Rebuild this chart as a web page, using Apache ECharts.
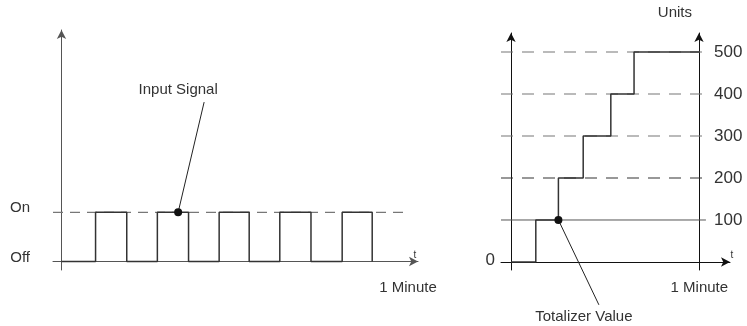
<!DOCTYPE html>
<html>
<head>
<meta charset="utf-8">
<script src="https://cdn.jsdelivr.net/npm/echarts@6/dist/echarts.min.js"></script>
<style>
  html, body { margin: 0; padding: 0; background: #fff; }
  #chart { width: 747px; height: 326px; }
</style>
</head>
<body>
<div id="chart"></div>
<script>
// input signal: seconds where the state flips, starting Off
var signalTimes = [0, 5.9, 11.3, 16.6, 22.0, 27.3, 32.5, 37.8, 43.2, 48.6, 53.8];
var signalStates = [0, 1, 0, 1, 0, 1, 0, 1, 0, 1, 0];
var stateLabels = ['Off', 'On'];

// totalizer: seconds where the count goes up by 100
var totalTimes = [0, 7.9, 15.1, 23.0, 31.8, 39.2, 60];
var totalValues = [0, 100, 200, 300, 400, 500, 500];
var unitTicks = [100, 200, 300, 400, 500];

var minuteMark = 60;
var signalDot = [20.2, 1];
var signalTextAt = [24.7, 3.24];
var totalDot = [15.1, 100];
var totalTextAt = [28, -102];

var font = 'Liberation Sans, Arial, sans-serif';

function zip(xs, ys) {
  return xs.map(function (x, i) { return [x, ys[i]] })
}

function arrowLine(color) {
  return {
    onZero: true,
    symbol: ['none', 'arrow'],
    symbolSize: [7, 9],
    lineStyle: { color: color, width: 1 }
  }
}

function callout(xi, yi, dot, textAt, text, labelPos, labelOffset) {
  return {
    type: 'line',
    xAxisIndex: xi,
    yAxisIndex: yi,
    silent: true,
    clip: false,
    symbol: 'circle',
    symbolSize: function (v, p) { return p.dataIndex === 0 ? 8 : 0 },
    itemStyle: { color: '#111' },
    lineStyle: { color: '#222', width: 1 },
    z: 5,
    data: [
      { value: dot },
      {
        value: textAt,
        label: {
          show: true, formatter: text, position: labelPos, offset: labelOffset,
          fontFamily: font, fontSize: 15, color: '#333'
        }
      }
    ]
  }
}

var chart = echarts.init(document.getElementById('chart'))

var series = [
  {
    type: 'line', xAxisIndex: 0, yAxisIndex: 0, silent: true, symbol: 'none',
    lineStyle: { color: '#777', width: 1.2, type: [10, 7] },
    data: [[-1.47, 1], [minuteMark, 1]]
  },
  {
    type: 'line', xAxisIndex: 0, yAxisIndex: 0, silent: true, symbol: 'none',
    step: 'end', z: 3,
    lineStyle: { color: '#333', width: 1.5 },
    data: zip(signalTimes, signalStates)
  },
  callout(0, 0, signalDot, signalTextAt, 'Input Signal', 'top', [-26, 0])
]

unitTicks.forEach(function (v) {
  series.push({
    type: 'line', xAxisIndex: 1, yAxisIndex: 1, silent: true, symbol: 'none',
    lineStyle: v === 100
      ? { color: '#555', width: 1, type: 'solid' }
      : { color: v === 200 ? '#333' : '#777', width: 1.2, type: [12, 9] },
    data: [[-3.19, v], [62.1, v]]
  })
})

series.push({
  type: 'line', xAxisIndex: 1, yAxisIndex: 1, silent: true, symbol: 'none',
  step: 'end', z: 3,
  lineStyle: { color: '#333', width: 1.5 },
  data: zip(totalTimes, totalValues)
})
series.push(callout(1, 1, totalDot, totalTextAt, 'Totalizer Value', 'bottom', [-15, 0]))

chart.setOption({
  animation: false,
  grid: [
    { left: 53, right: 329, top: 30, bottom: 56 },
    { left: 501, right: 17, top: 33, bottom: 56 }
  ],
  xAxis: [
    {
      type: 'value', gridIndex: 0, min: -1.47, max: 61.73,
      axisLine: arrowLine('#555'),
      axisTick: { show: false },
      splitLine: { show: false },
      axisLabel: {
        customValues: [minuteMark], formatter: function () { return '1 Minute' },
        margin: 10, fontFamily: font, fontSize: 15, color: '#333'
      },
      name: 't', nameLocation: 'end', nameGap: -3,
      nameTextStyle: { fontFamily: font, fontSize: 10, color: '#333', align: 'center', verticalAlign: 'bottom', padding: [0, 0, 1, 0] }
    },
    {
      type: 'value', gridIndex: 1, min: -3.19, max: 69.77,
      axisLine: arrowLine('#111'),
      axisTick: { show: false },
      splitLine: { show: false },
      axisLabel: {
        customValues: [minuteMark], formatter: function () { return '1 Minute' },
        margin: 10, fontFamily: font, fontSize: 15, color: '#333'
      },
      name: 't', nameLocation: 'end', nameGap: 2,
      nameTextStyle: { fontFamily: font, fontSize: 10, color: '#333', align: 'center', verticalAlign: 'bottom', padding: [0, 0, 2, 0] }
    }
  ],
  yAxis: [
    {
      type: 'value', gridIndex: 0, min: -0.173, max: 4.705,
      axisLine: arrowLine('#555'),
      axisTick: { show: false },
      splitLine: { show: false },
      axisLabel: {
        customValues: [0, 1], formatter: function (v) { return stateLabels[v] },
        margin: 23, fontFamily: font, fontSize: 15, color: '#333',
        verticalAlign: 'bottom', lineHeight: 8
      }
    },
    {
      type: 'value', gridIndex: 1, min: -19.05, max: 545.2,
      axisLine: arrowLine('#111'),
      axisTick: { show: false },
      splitLine: { show: false },
      axisLabel: {
        customValues: [0], margin: 6, fontFamily: font, fontSize: 17, color: '#333',
        verticalAlign: 'bottom', lineHeight: 4
      }
    },
    {
      type: 'value', gridIndex: 1, min: -19.05, max: 545.2,
      position: 'right', offset: -31,
      axisLine: { onZero: false, symbol: ['none', 'arrow'], symbolSize: [7, 9], lineStyle: { color: '#111', width: 1 } },
      axisTick: { show: false },
      splitLine: { show: false },
      axisLabel: {
        customValues: unitTicks, margin: 15, fontFamily: font, fontSize: 17, color: '#333'
      },
      name: 'Units', nameLocation: 'end', nameGap: 13,
      nameTextStyle: { fontFamily: font, fontSize: 15, color: '#333', align: 'right', padding: [0, 7, 0, 0] }
    }
  ],
  series: series
})
</script>
</body>
</html>
